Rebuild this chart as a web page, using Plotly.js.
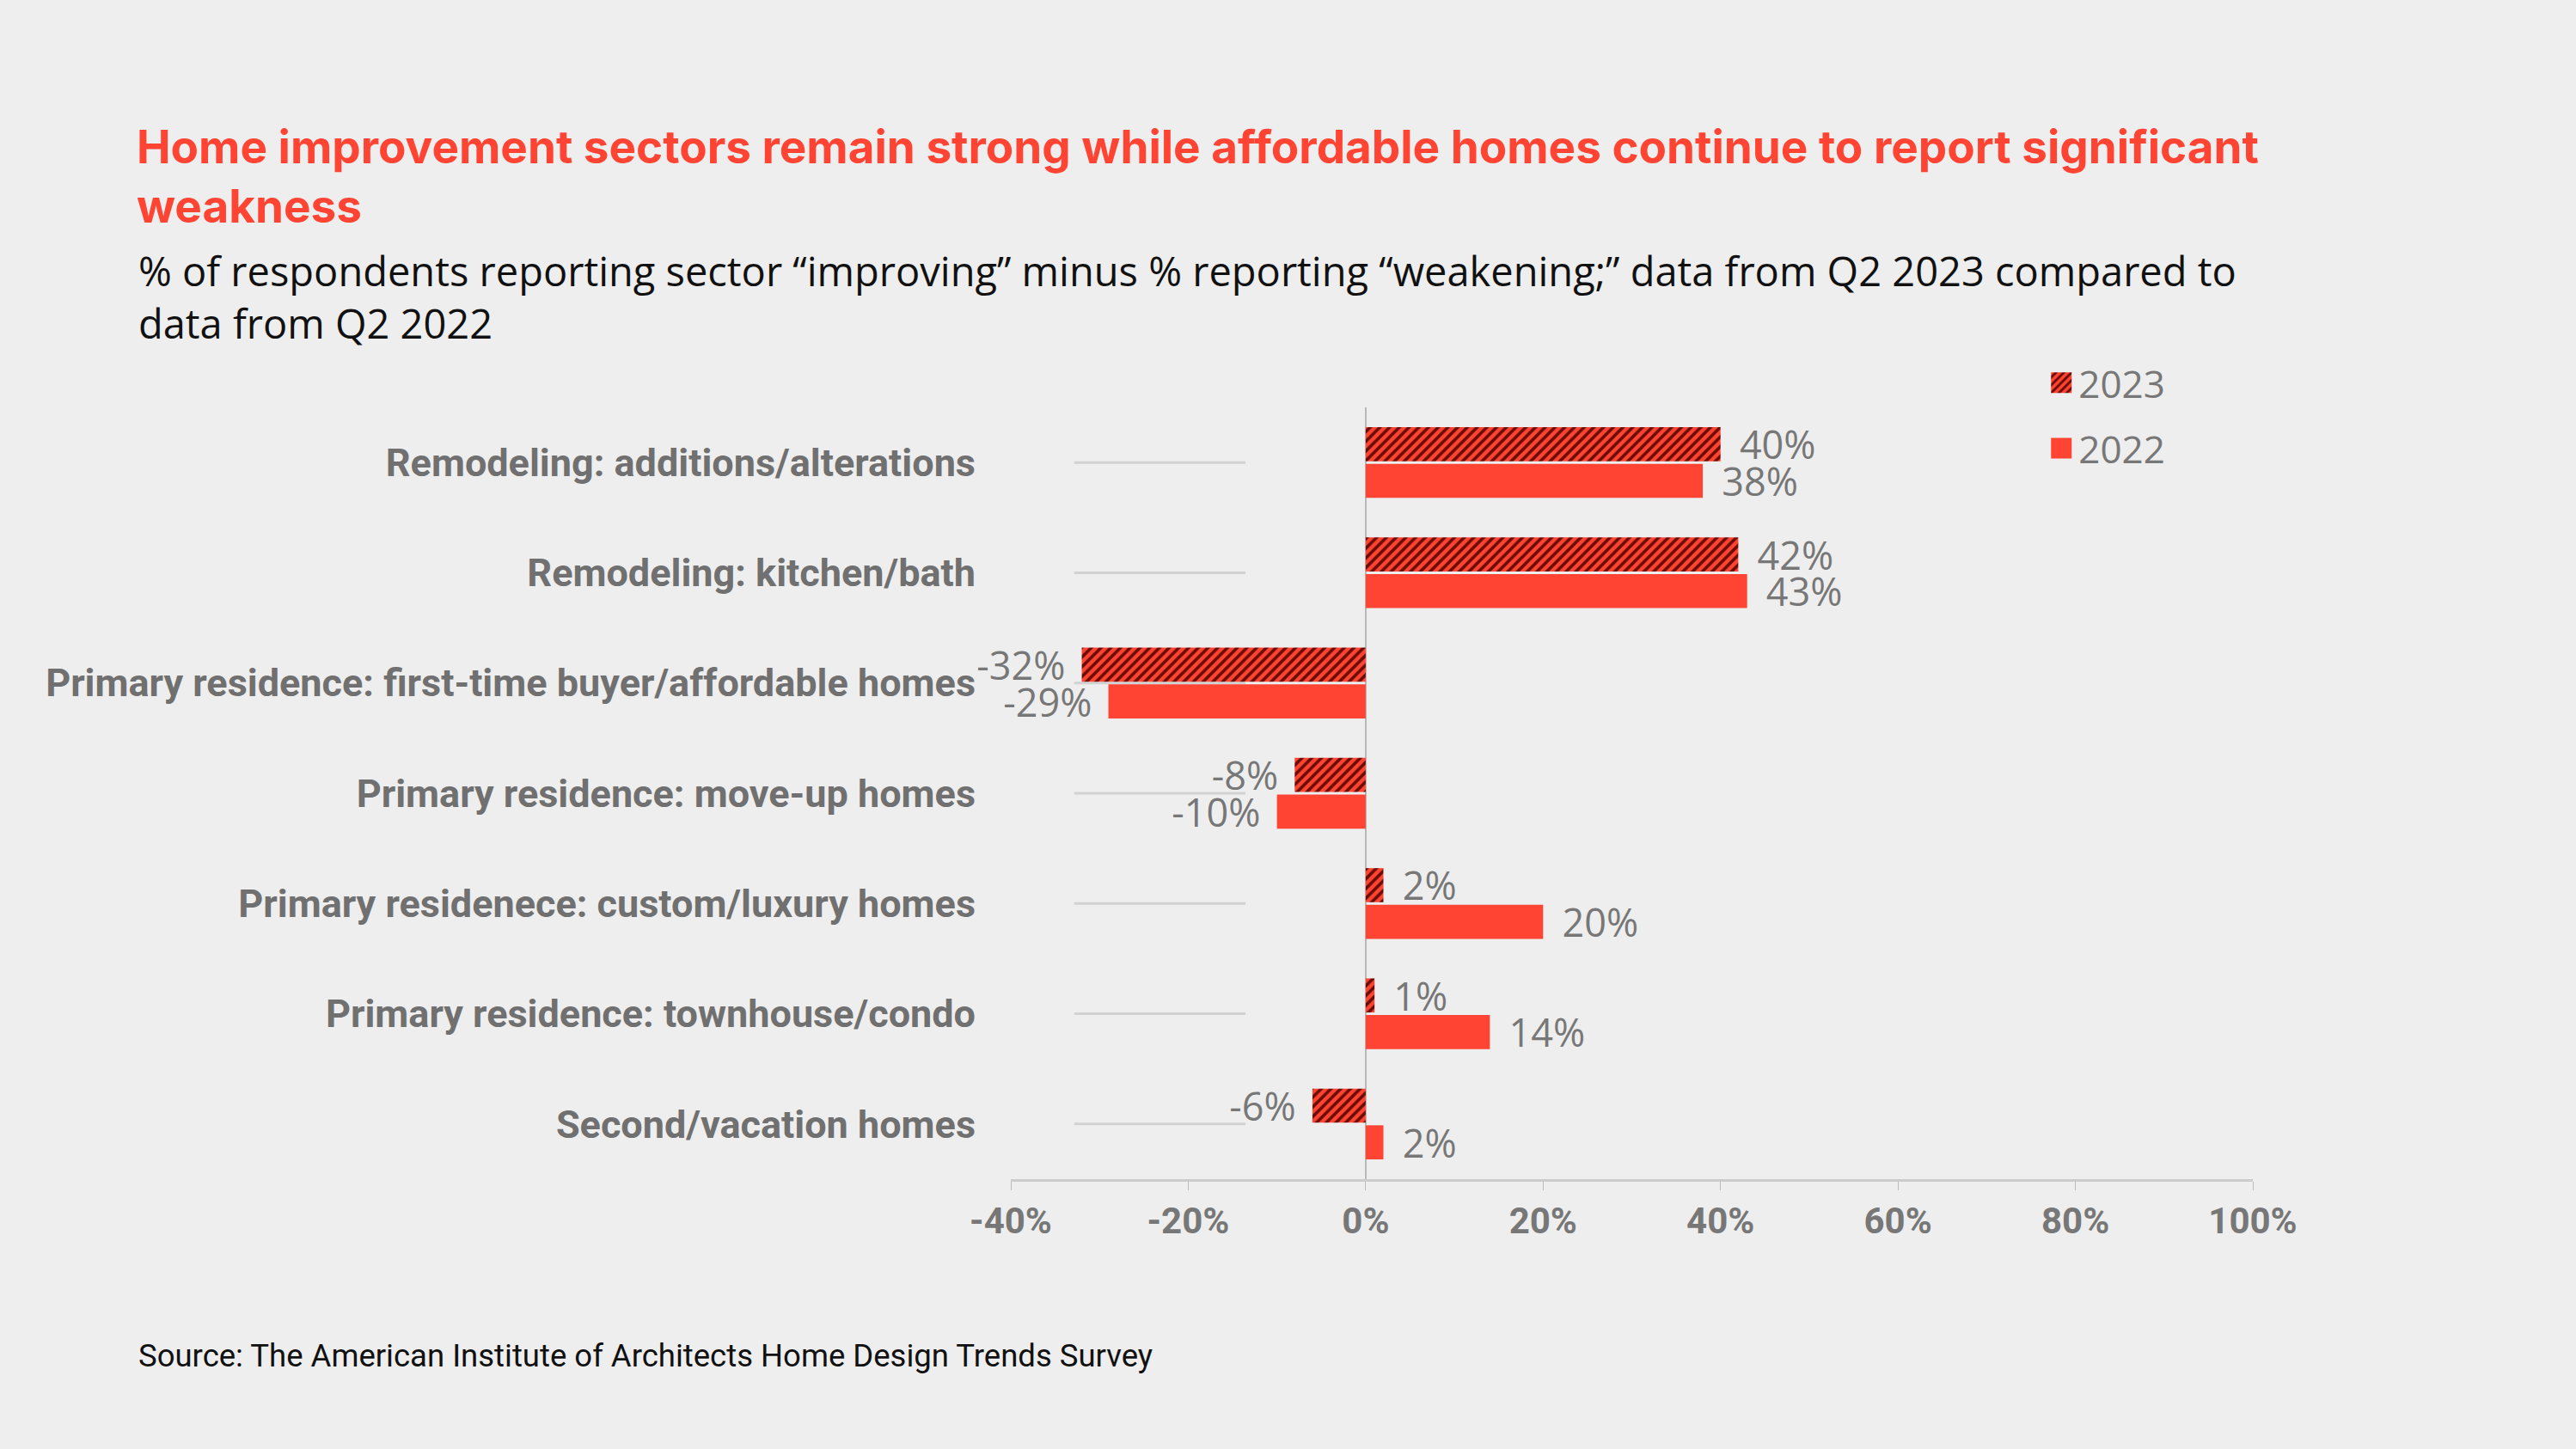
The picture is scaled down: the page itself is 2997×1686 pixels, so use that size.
<!DOCTYPE html>
<html>
<head>
<meta charset="utf-8">
<script src="https://cdn.plot.ly/plotly-3.0.1.min.js"></script>
<style>
  html, body { margin: 0; padding: 0; background: #eeeeee; }
  #chart { width: 2997px; height: 1686px; }
</style>
</head>
<body>
<div id="chart"></div>
<script>
// ---------- data ----------
const categories = [
  'Remodeling: additions/alterations',
  'Remodeling: kitchen/bath',
  'Primary residence: first-time buyer/affordable homes',
  'Primary residence: move-up homes',
  'Primary residenece: custom/luxury homes',
  'Primary residence: townhouse/condo',
  'Second/vacation homes'
];
const values2023 = [40, 42, -32, -8, 2, 1, -6];
const values2022 = [38, 43, -29, -10, 20, 14, 2];
const seriesNames = ['2023', '2022'];
const tickVals = [-40, -20, 0, 20, 40, 60, 80, 100];
const tickLabels = ['-40%', '-20%', '0%', '20%', '40%', '60%', '80%', '100%'];

const titleText = 'Home improvement sectors remain strong while affordable homes continue to report significant<br>weakness';
const subtitleText = '% of respondents reporting sector \u201Cimproving\u201D minus % reporting \u201Cweakening;\u201D data from Q2 2023 compared to<br>data from Q2 2022';
const sourceText = 'Source: The American Institute of Architects Home Design Trends Survey';

// ---------- style ----------
const RED = '#ff4433';
const DARK = '#6a0c04';
const BG = '#eeeeee';
const BOLD = 'Roboto, "Liberation Sans", sans-serif';
const TITLEF = 'Inter, Roboto, sans-serif';
const REG = '"Open Sans", Roboto, sans-serif';
const NB = '\u00a0';

function labels(vals) {
  return vals.map(v => v < 0 ? (v + '%' + NB + '\u200A') : (NB + '\u2009' + v + '%'));
}

const trace2023 = {
  type: 'bar', orientation: 'h', name: seriesNames[0],
  y: categories, x: values2023,
  text: labels(values2023), textposition: 'outside', cliponaxis: false,
  constraintext: 'none',
  textfont: { family: REG, size: 45, color: '#777777' },
  marker: { color: RED, line: { width: 0 },
            pattern: { shape: '/', fgcolor: DARK, bgcolor: RED, size: 8, solidity: 0.45, fillmode: 'replace' } },
  legendgroup: 'a', hoverinfo: 'x+y'
};
const trace2022 = {
  type: 'bar', orientation: 'h', name: seriesNames[1],
  y: categories, x: values2022,
  text: labels(values2022), textposition: 'outside', cliponaxis: false,
  constraintext: 'none',
  textfont: { family: REG, size: 45, color: '#777777' },
  marker: { color: RED, line: { width: 0 } },
  legendgroup: 'b', hoverinfo: 'x+y'
};

const stubShapes = categories.map(c => ({
  type: 'line', layer: 'below', xref: 'paper', yref: 'y',
  x0: 0.051, x1: 0.189, y0: c, y1: c,
  line: { color: '#d2d2d2', width: 3 }
}));

const layout = {
  width: 2997, height: 1686,
  paper_bgcolor: BG, plot_bgcolor: BG,
  margin: { l: 1176, r: 376, t: 474, b: 314, autoexpand: false },
  barmode: 'group', bargap: 0.335, bargroupgap: 0.07,
  font: { family: REG, color: '#777777' },
  title: {
    text: titleText,
    font: { family: TITLEF, size: 53, color: RED, weight: 700 },
    xref: 'container', yref: 'container',
    x: 159 / 2997, xanchor: 'left',
    y: 1 - 190 / 1686, yanchor: 'top'
  },
  xaxis: {
    range: [-40, 100], tickvals: tickVals, ticktext: tickLabels,
    showgrid: false, zeroline: true, zerolinecolor: '#b8b8b8', zerolinewidth: 2,
    showline: true, linecolor: '#cccccc', linewidth: 3,
    ticks: 'outside', ticklen: 10, tickcolor: '#bbbbbb', tickwidth: 1,
    tickfont: { family: BOLD, size: 42, color: '#777777', weight: 700 },
    fixedrange: true
  },
  yaxis: {
    type: 'category', autorange: 'reversed',
    showgrid: false, zeroline: false, showline: false, ticks: '',
    ticklabelstandoff: 40,
    tickfont: { family: BOLD, size: 45, color: '#707070', weight: 700 },
    fixedrange: true
  },
  legend: {
    x: 0.832, y: 1.071, xanchor: 'left', yanchor: 'top',
    bgcolor: 'rgba(0,0,0,0)', tracegroupgap: 16,
    font: { family: REG, size: 44, color: '#777777' },
    traceorder: 'grouped'
  },
  shapes: stubShapes,
  annotations: [
    {
      text: subtitleText, xref: 'paper', yref: 'paper',
      x: (159 - 1176) / 1445, y: (1372 - 281) / 898,
      xanchor: 'left', yanchor: 'top', align: 'left', showarrow: false,
      font: { family: REG, size: 47, color: '#111111' }
    },
    {
      text: sourceText, xref: 'paper', yref: 'paper',
      x: (159 - 1176) / 1445, y: (1372 - 1577) / 898,
      xanchor: 'left', yanchor: 'middle', align: 'left', showarrow: false,
      font: { family: BOLD, size: 36.5, color: '#111111' }
    }
  ]
};

Plotly.newPlot('chart', [trace2023, trace2022], layout, { displayModeBar: false }).then(gd => {
  // enlarge the legend swatches to match the reference's 24px squares
  gd.querySelectorAll('g.legend g.legendpoints path').forEach(p => {
    p.setAttribute('d', 'M12,12H-12V-12H12Z');
  });
});
</script>
</body>
</html>
